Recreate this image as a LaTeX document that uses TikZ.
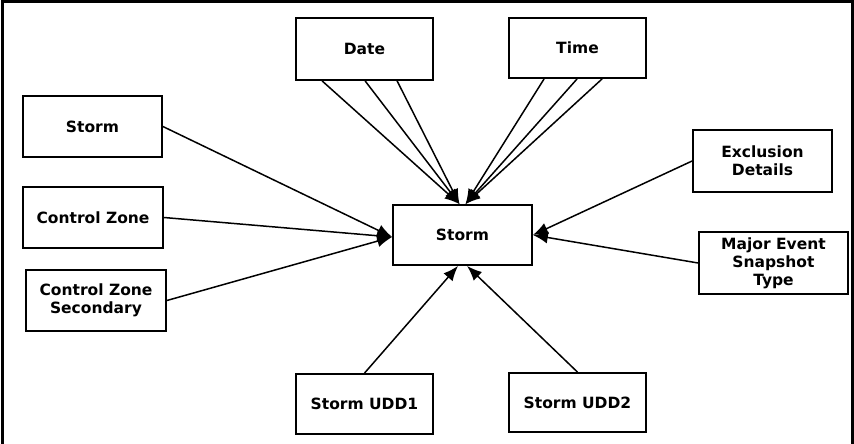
\documentclass[tikz,border=0pt]{standalone}
\usepackage{fontspec}
\setmainfont{DejaVu Sans}
\usetikzlibrary{arrows.meta}
\begin{document}
\begin{tikzpicture}[x=1pt,y=-1pt,
  ent/.style={draw, line width=1.8pt, fill=white, align=center, inner sep=0pt,
    font=\fontsize{15.5}{18}\selectfont\bfseries},
  conn/.style={line width=1.5pt, -{Latex[length=15pt,width=12pt]}}]
\useasboundingbox (0,0) rectangle (854,444);
\draw[line width=3pt] (2,444) -- (2,2) -- (852,2) -- (852,444);
% nodes
\node[ent, minimum width=137pt, minimum height=62pt] (date) at (364.5,49) {Date};
\node[ent, minimum width=137pt, minimum height=60pt] (time) at (577.5,48) {Time};
\node[ent, minimum width=139pt, minimum height=61pt] (storml) at (92.5,126.5) {Storm};
\node[ent, minimum width=140pt, minimum height=61pt] (cz) at (93,217.5) {Control Zone};
\node[ent, minimum width=140pt, minimum height=61pt] (czs) at (96,300.5) {Control Zone\\Secondary};
\node[ent, minimum width=139pt, minimum height=60pt] (center) at (462.5,235) {Storm};
\node[ent, minimum width=139pt, minimum height=62pt] (excl) at (762.5,161) {Exclusion\\Details};
\node[ent, minimum width=149pt, minimum height=62pt] (major) at (773.5,263) {Major Event\\Snapshot\\Type};
\node[ent, minimum width=137pt, minimum height=60pt] (udd1) at (364.5,404) {Storm UDD1};
\node[ent, minimum width=137pt, minimum height=59pt] (udd2) at (577.5,402.5) {Storm UDD2};
% connectors
\coordinate (topL) at ([xshift=-3pt]center.north);
\coordinate (topR) at ([xshift=3pt]center.north);
\draw[conn] ([xshift=27pt]date.south west) -- (topL);
\draw[conn] ([xshift=70pt]date.south west) -- (topL);
\draw[conn] ([xshift=102pt]date.south west) -- (topL);
\draw[conn] ([xshift=36pt]time.south west) -- (topR);
\draw[conn] ([xshift=69pt]time.south west) -- (topR);
\draw[conn] ([xshift=94pt]time.south west) -- (topR);
\coordinate (inL) at ([yshift=-2pt]center.west);
\draw[conn] (storml.east) -- (inL);
\draw[conn] (cz.east) -- (inL);
\draw[conn] (czs.east) -- (inL);
\draw[conn] (excl.west) -- (center.east);
\draw[conn] (major.west) -- (center.east);
\draw[conn] (udd1.north) -- ([xshift=-4.5pt]center.south);
\draw[conn] (udd2.north) -- ([xshift=4.5pt]center.south);
\end{tikzpicture}
\end{document}
